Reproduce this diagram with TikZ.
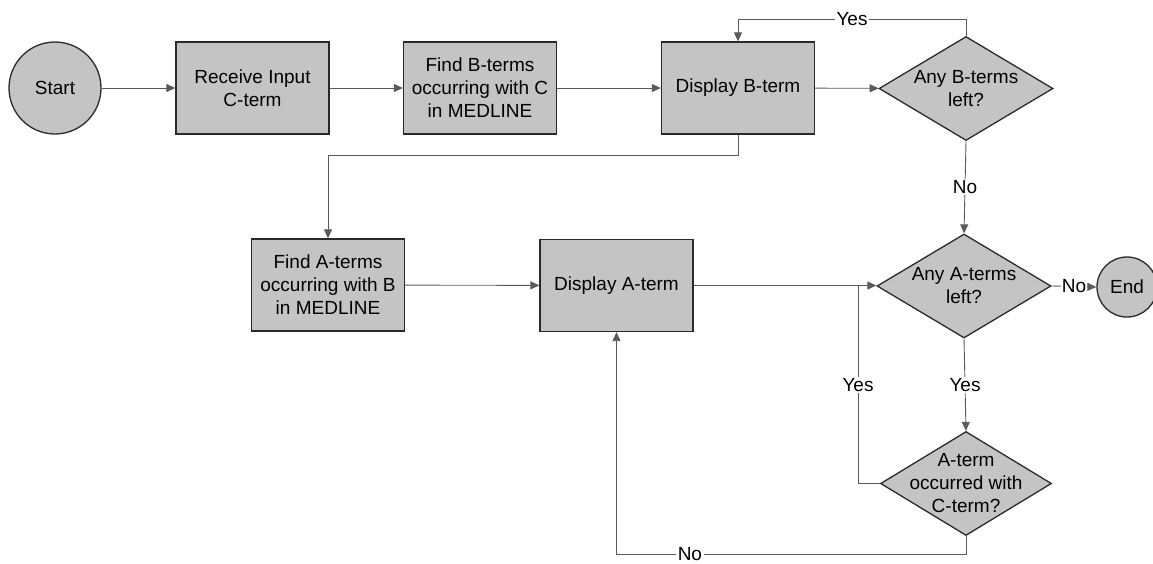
\documentclass[tikz,border=0pt]{standalone}
\usepackage{fontspec}
\setmainfont{Liberation Sans}
\usepackage{tikz}
\usetikzlibrary{arrows.meta,positioning,shapes.geometric,calc}
\definecolor{fcfill}{HTML}{C4C4C4}
\definecolor{fcline}{HTML}{5A5A5A}
\definecolor{fcedge}{HTML}{2A2A2A}

\begin{document}
\begin{tikzpicture}[x=1pt,y=-1pt,
    every node/.style={font=\fontsize{19}{23}\selectfont},
    procbox/.style={rectangle,draw=fcedge,line width=1.3pt,fill=fcfill,minimum width=153pt,minimum height=92pt,align=center,inner sep=0pt},
    termcirc/.style={circle,draw=fcedge,line width=1.3pt,fill=fcfill,inner sep=0pt},
    decbox/.style={diamond,draw=fcedge,line width=1.3pt,fill=fcfill,minimum width=174pt,minimum height=104pt,inner sep=0pt},
    dectext/.style={align=center,inner sep=0pt},
    flow/.style={draw=fcline,line width=0.9pt,-{Triangle[length=9pt,width=8pt]}},
    link/.style={draw=fcline,line width=0.9pt},
    lab/.style={fill=white,inner sep=1.5pt}]
  \useasboundingbox (0,0) rectangle (1153,563);
  \node[termcirc,minimum size=92pt] (start) at (55,88) {Start};
  \node[procbox] (recv) at (252.5,88) {Receive Input\\C-term};
  \node[procbox] (findb) at (480,88) {Find B-terms\\occurring with C\\in MEDLINE};
  \node[procbox] (dispb) at (738,88) {Display B-term};
  \node[decbox] (qb) at (966,88.5) {};
  \node[dectext] (qbtext) at (qb) {Any B-terms\\left?};
  \node[procbox] (finda) at (328,285) {Find A-terms\\occurring with B\\in MEDLINE};
  \node[procbox] (dispa) at (616.5,285.5) {Display A-term};
  \node[decbox] (qa) at (964,286) {};
  \node[dectext] (qatext) at (qa) {Any A-terms\\left?};
  \node[decbox,minimum width=171pt] (qc) at (966,483.5) {};
  \node[dectext] (qctext) at (qc) {A-term\\occurred with\\C-term?};
  \node[termcirc,minimum size=60pt] (stop) at (1127,287) {End};
  \coordinate (yb) at (966,19);
  \coordinate (ja) at (858,286);
  \coordinate (nc) at (966,554);

  \draw[flow] (start) -- (recv);
  \draw[flow] (recv) -- (findb);
  \draw[flow] (findb) -- (dispb);
  \draw[flow] (dispb) -- (qb);
  \draw[flow] (qb.north) -- (yb) -- node[lab]{Yes} (yb -| dispb.north) -- (dispb.north);
  \draw[flow] (dispb.south) -- ++(0,21) -| (finda.north);
  \draw[flow] (qb.south) -- node[lab]{No} (qa.north);
  \draw[flow] (finda) -- (dispa);
  \draw[flow] (dispa.east) -- (dispa.east -| qa.west);
  \draw[flow] (qa.east) -- node[lab,inner sep=0.5pt]{No} (stop.west);
  \draw[flow] (qa.south) -- node[lab]{Yes} (qc.north);
  \draw[link] (qc.west) -| node[lab,pos=0.75]{Yes} (ja);
  \draw[flow] (qc.south) -- (nc) -- node[lab,pos=0.79]{No} (nc -| dispa.south) -- (dispa.south);
\end{tikzpicture}
\end{document}
